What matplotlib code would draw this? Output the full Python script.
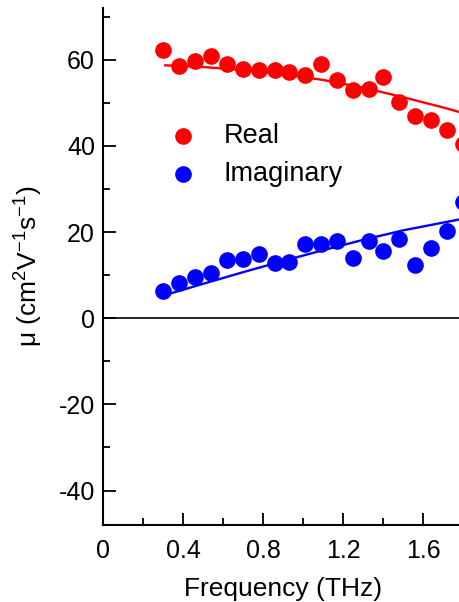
import matplotlib
matplotlib.use("Agg")
import matplotlib.pyplot as plt
from matplotlib.ticker import MultipleLocator, FixedFormatter, FixedLocator

plt.rcParams['font.family'] = ['Liberation Sans', 'DejaVu Sans']
plt.rcParams['mathtext.fontset'] = 'custom'
plt.rcParams['mathtext.rm'] = 'Liberation Sans'
plt.rcParams['mathtext.it'] = 'Liberation Sans:italic'
plt.rcParams['axes.unicode_minus'] = False

freq = [0.30, 0.38, 0.46, 0.54, 0.62, 0.70, 0.78, 0.86, 0.93, 1.01,
        1.09, 1.17, 1.25, 1.33, 1.40, 1.48, 1.56, 1.64, 1.72, 1.80]
mu_real = [62.3, 58.6, 59.7, 60.9, 58.9, 57.8, 57.6, 57.6, 57.1, 56.4,
           58.9, 55.3, 52.9, 53.2, 55.9, 50.2, 47.0, 45.9, 43.6, 40.4]
mu_imag = [6.3, 8.2, 9.6, 10.5, 13.6, 13.8, 15.0, 12.7, 13.1, 17.2,
           17.3, 18.0, 14.0, 17.9, 15.5, 18.5, 12.3, 16.3, 20.3, 27.0]

# fit curves
fit_freq = [0.31, 0.5, 0.7, 0.9, 1.1, 1.3, 1.5, 1.7, 1.8]
fit_real = [58.7, 58.3, 57.6, 56.6, 55.3, 53.5, 51.3, 48.9, 47.6]
fit_imag = [5.4, 8.0, 10.7, 13.3, 15.8, 18.2, 20.4, 22.2, 23.1]

fig = plt.figure(figsize=(4.6, 6.02), dpi=100)
ax = fig.add_axes([0.2246, 0.1279, 0.7826, 0.8588])

ax.axhline(0, color='black', lw=1.2, zorder=1)
ax.plot(fit_freq, fit_real, color='#ff0000', lw=1.7, zorder=2)
ax.plot(fit_freq, fit_imag, color='#0000ff', lw=1.7, zorder=2)
ax.plot(freq, mu_real, 'o', color='#ff0000', ms=12, mec='none', zorder=3)
ax.plot(freq, mu_imag, 'o', color='#0000ff', ms=12, mec='none', zorder=3)

ax.set_xlim(0, 1.8)
ax.set_ylim(-48, 72)

ax.spines['top'].set_visible(False)
ax.spines['right'].set_visible(False)
ax.spines['left'].set_linewidth(1.5)
ax.spines['bottom'].set_linewidth(1.5)

ax.xaxis.set_major_locator(FixedLocator([0, 0.4, 0.8, 1.2, 1.6]))
ax.xaxis.set_major_formatter(FixedFormatter(['0', '0.4', '0.8', '1.2', '1.6']))
ax.xaxis.set_minor_locator(MultipleLocator(0.2))
ax.yaxis.set_major_locator(MultipleLocator(20))
ax.yaxis.set_minor_locator(MultipleLocator(10))
ax.tick_params(which='both', direction='in', width=1.3, labelsize=18)
ax.tick_params(which='major', length=9)
ax.tick_params(which='minor', length=5)
ax.tick_params(axis='x', pad=10)
ax.tick_params(axis='y', pad=6)

ax.set_xlabel('Frequency (THz)', fontsize=19, labelpad=10)
ax.set_ylabel(r'μ (cm$^{2}$V$^{-1}$s$^{-1}$)', fontsize=19, labelpad=10)

# legend
ax.plot([0.40], [42.3], 'o', color='#ff0000', ms=12, mec='none')
ax.plot([0.40], [33.5], 'o', color='#0000ff', ms=12, mec='none')
ax.text(0.60, 42.3, 'Real', fontsize=19.5, va='center', ha='left')
ax.text(0.60, 33.5, 'Imaginary', fontsize=19.5, va='center', ha='left')

fig.savefig('out.png', dpi=100)
